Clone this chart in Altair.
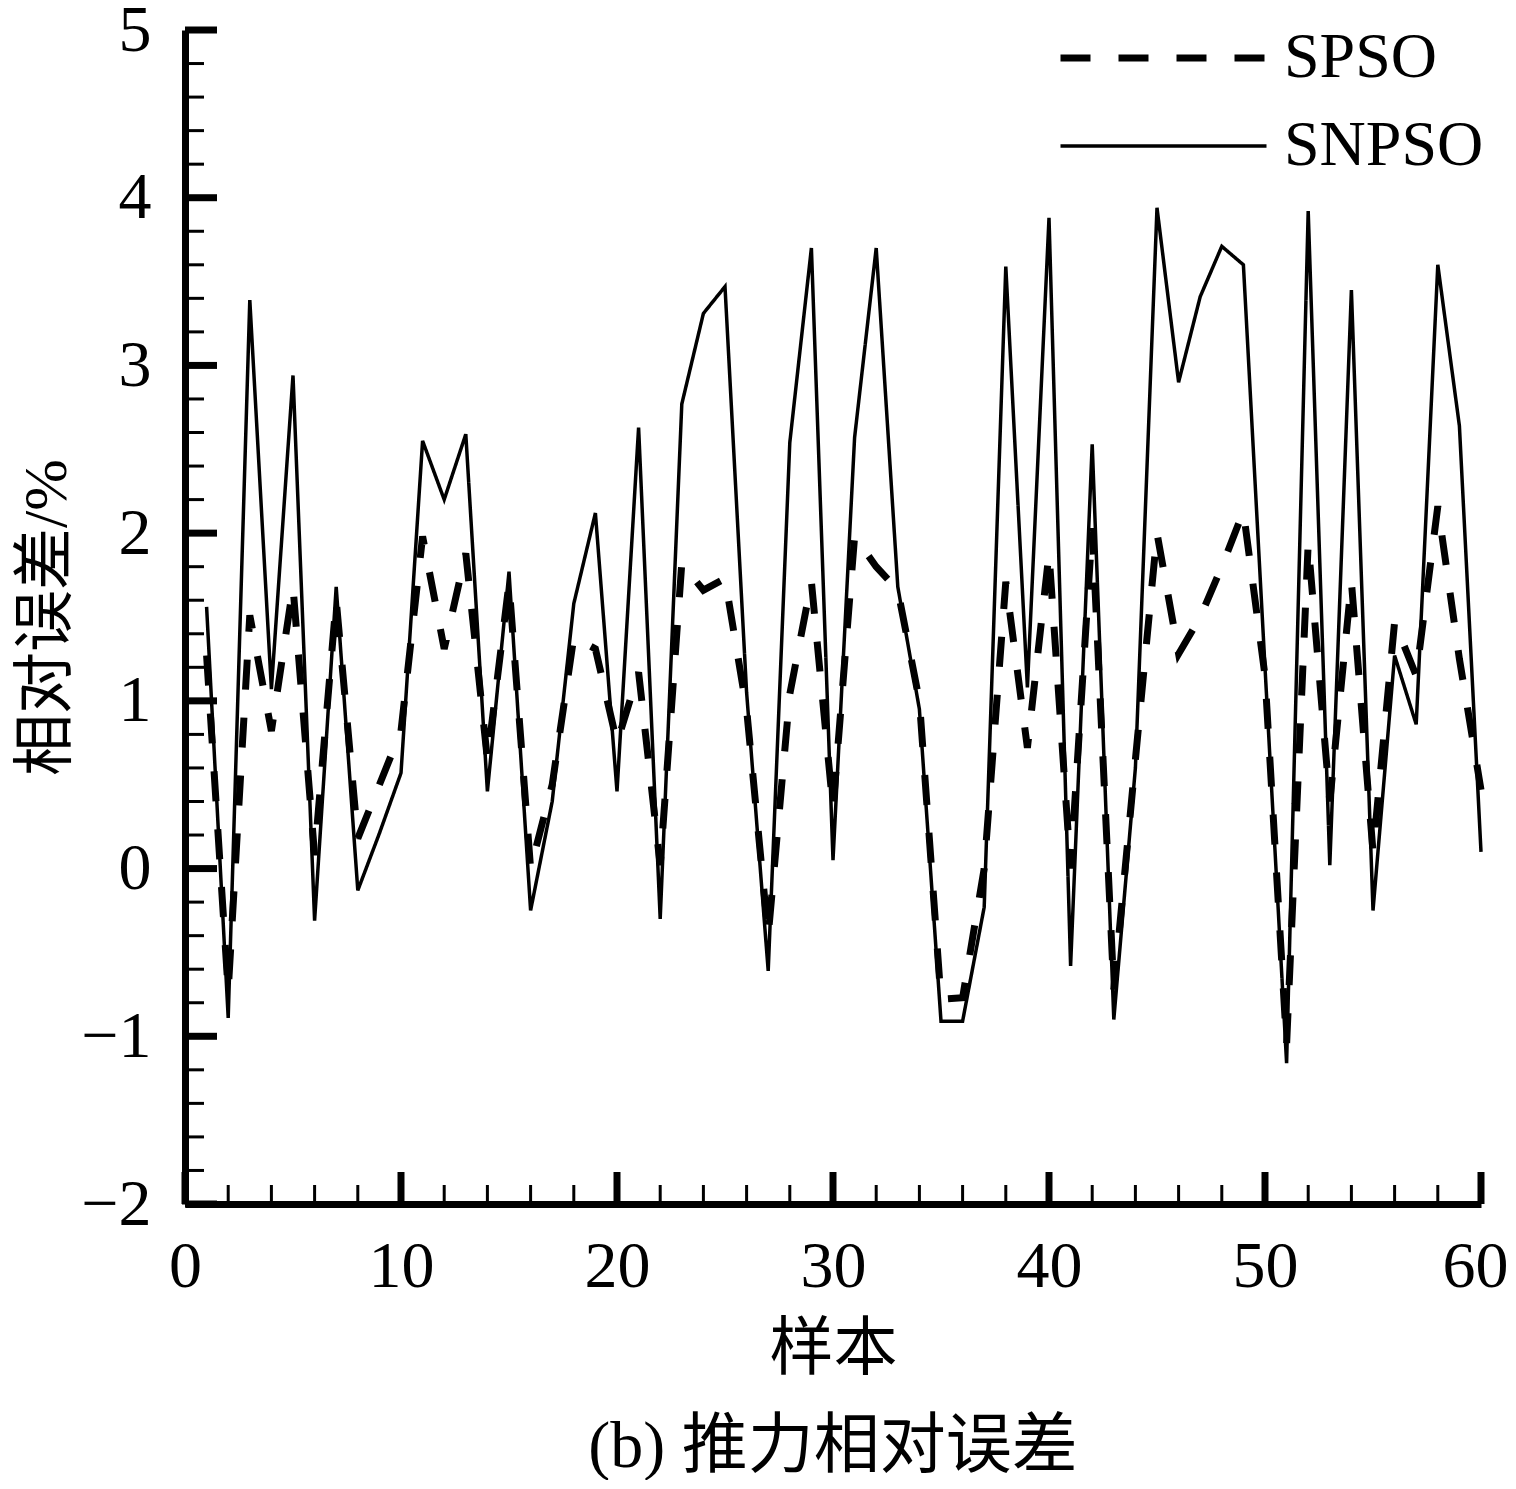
import pandas as pd
import altair as alt

sample = list(range(1, 61))

spso = [1.27, -0.73, 1.51, 0.82, 1.68, 0.08, 1.60, 0.18, 0.50, 0.82,
        1.98, 1.31, 1.88, 0.65, 1.70, 0.00, 0.50, 1.38, 1.31, 0.75,
        1.17, 0.02, 1.82, 1.66, 1.73, 0.95, -0.40, 1.04, 1.71, 0.36,
        1.98, 1.80, 1.66, 1.00, -0.78, -0.77, 0.00, 1.71, 0.72, 1.88,
        0.00, 2.03, -0.72, 0.65, 2.00, 1.28, 1.50, 1.80, 2.13, 1.15,
        -1.05, 1.94, 0.40, 1.71, 0.10, 1.47, 1.15, 2.16, 1.25, 0.47]

snpso = [1.56, -0.89, 3.39, 1.07, 2.94, -0.31, 1.68, -0.13, 0.21, 0.57,
         2.55, 2.20, 2.59, 0.46, 1.77, -0.25, 0.40, 1.58, 2.12, 0.46,
         2.63, -0.30, 2.77, 3.31, 3.47, 1.05, -0.61, 2.54, 3.70, 0.05,
         2.57, 3.70, 1.68, 0.95, -0.91, -0.91, -0.23, 3.59, 1.08, 3.88,
         -0.58, 2.53, -0.90, 0.60, 3.94, 2.90, 3.41, 3.71, 3.60, 1.20,
         -1.16, 3.92, 0.02, 3.45, -0.25, 1.27, 0.86, 3.60, 2.64, 0.10]

methods = ['SPSO', 'SNPSO']

x_major = [0, 10, 20, 30, 40, 50, 60]
x_minor = [v for v in range(2, 60, 2) if v % 10]
y_major = [-2, -1, 0, 1, 2, 3, 4, 5]
y_minor = [round(-2 + 0.2 * i, 1) for i in range(36) if i % 5]

serif = 'Liberation Serif, Noto Sans CJK SC'
cjk = 'Noto Sans CJK SC'

W, H = 1296, 1174

df = pd.concat([
    pd.DataFrame({'sample': sample, 'value': spso, 'method': 'SPSO'}),
    pd.DataFrame({'sample': sample, 'value': snpso, 'method': 'SNPSO'}),
])

xscale = alt.Scale(domain=[0, 60], nice=False, zero=False)
yscale = alt.Scale(domain=[-2, 5], nice=False, zero=False)

# same axis objects in every layer so the shared axes merge cleanly
xaxis = alt.Axis(title='样本', values=x_major, format='d', ticks=False, grid=False,
                 domainWidth=7, domainColor='black',
                 labelFont=serif, labelFontSize=66, labelColor='black', labelPadding=30,
                 labelFlush=False,
                 labelOffset={'condition': {'test': 'datum.value == 60', 'value': -6}, 'value': 0},
                 titleFont=cjk, titleFontSize=64, titleFontWeight='normal',
                 titleColor='black', titlePadding=18)
yaxis = alt.Axis(title='相对误差/%', values=y_major, format='d', ticks=False, grid=False,
                 domainWidth=7, domainColor='black',
                 labelFont=serif, labelFontSize=66, labelColor='black', labelPadding=34,
                 labelFlush=False,
                 titleFont=serif, titleFontSize=62, titleFontWeight='normal',
                 titleColor='black', titlePadding=2)

leg = alt.Legend(orient='none', legendX=872, legendY=-4, title=None,
                 symbolType='stroke', symbolSize=206 ** 2, symbolStrokeColor='black',
                 labelFont=serif, labelFontSize=64, labelColor='black', labelLimit=500,
                 labelOffset=14, clipHeight=64, rowPadding=24, padding=0)

lines = alt.Chart(df).mark_line(color='black').encode(
    x=alt.X('sample:Q', scale=xscale, axis=xaxis),
    y=alt.Y('value:Q', scale=yscale, axis=yaxis),
    strokeDash=alt.StrokeDash('method:N', scale=alt.Scale(domain=methods, range=[[30, 28], [1, 0]]),
                              legend=leg),
    strokeWidth=alt.StrokeWidth('method:N', scale=alt.Scale(type='ordinal', domain=methods, range=[7, 3.5]),
                                legend=leg),
)

y_big = alt.Chart(pd.DataFrame({'value': y_major})).mark_rule(color='black', strokeWidth=7).encode(
    y=alt.Y('value:Q', scale=yscale, axis=yaxis), x=alt.value(0), x2=alt.value(32))
y_small = alt.Chart(pd.DataFrame({'value': y_minor})).mark_rule(color='black', strokeWidth=3).encode(
    y=alt.Y('value:Q', scale=yscale, axis=yaxis), x=alt.value(0), x2=alt.value(19))
x_big = alt.Chart(pd.DataFrame({'sample': x_major})).mark_rule(color='black', strokeWidth=7).encode(
    x=alt.X('sample:Q', scale=xscale, axis=xaxis), y=alt.value(H), y2=alt.value(H - 32))
x_small = alt.Chart(pd.DataFrame({'sample': x_minor})).mark_rule(color='black', strokeWidth=3).encode(
    x=alt.X('sample:Q', scale=xscale, axis=xaxis), y=alt.value(H), y2=alt.value(H - 19))

chart = alt.layer(lines, y_big, y_small, x_big, x_small).properties(
    width=W, height=H,
    autosize=alt.AutoSizeParams(type='none'),
    padding={'left': 177, 'top': 22, 'right': 27, 'bottom': 276},
    title=alt.TitleParams('(b) 推力相对误差', orient='bottom', font=serif, fontSize=66,
                          fontWeight='normal', color='black', offset=34),
).configure_view(strokeWidth=0)

chart.save("out.html", embed_options={"renderer": "svg", "actions": False})
